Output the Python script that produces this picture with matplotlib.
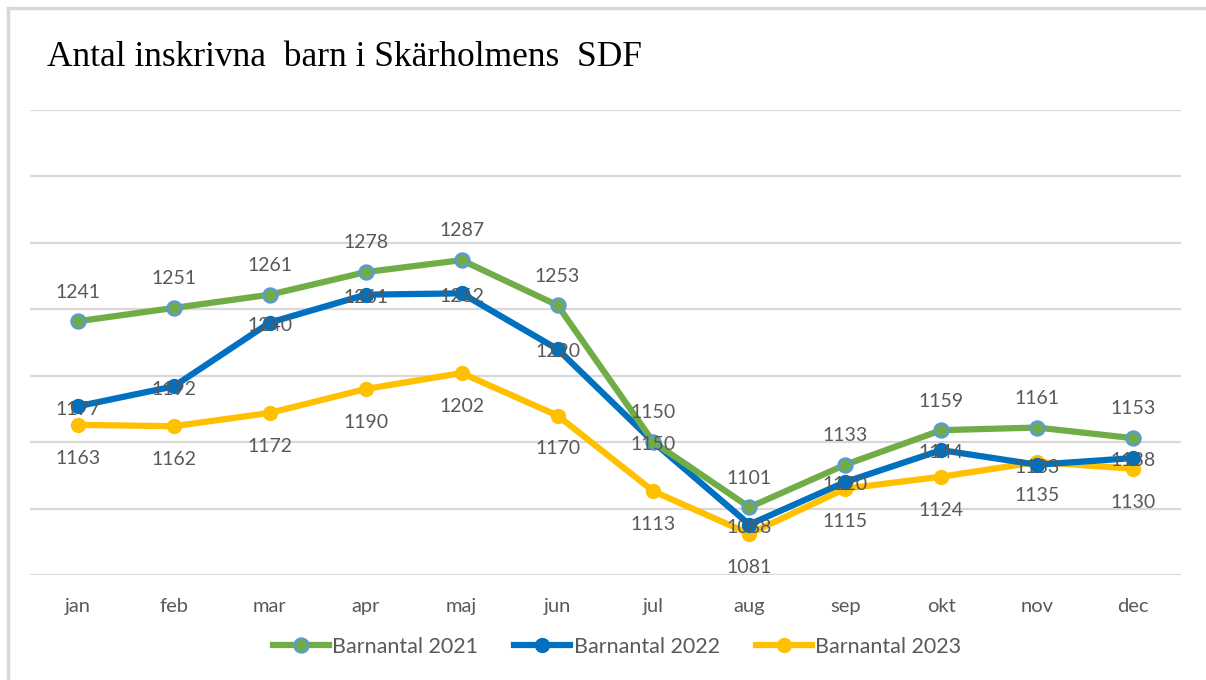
import matplotlib
matplotlib.use("Agg")
import matplotlib.pyplot as plt
from matplotlib.lines import Line2D

months = ["jan", "feb", "mar", "apr", "maj", "jun", "jul", "aug", "sep", "okt", "nov", "dec"]
barn_2021 = [1241, 1251, 1261, 1278, 1287, 1253, 1150, 1101, 1133, 1159, 1161, 1153]
barn_2022 = [1177, 1192, 1240, 1261, 1262, 1220, 1150, 1088, 1120, 1144, 1133, 1138]
barn_2023 = [1163, 1162, 1172, 1190, 1202, 1170, 1113, 1081, 1115, 1124, 1135, 1130]
series_names = ["Barnantal 2021", "Barnantal 2022", "Barnantal 2023"]

GREEN = "#70AD47"
BLUE = "#0070C0"
LIGHTBLUE = "#5B9BD5"
YELLOW = "#FFC000"
TEXT = "#595959"
GRID = "#D9D9D9"

fig = plt.figure(figsize=(12.06, 6.80), dpi=100)
fig.patch.set_facecolor("white")

# chart frame (top and left edges visible)
fig.add_artist(Line2D([8 / 1206, 1], [1 - 8 / 680, 1 - 8 / 680], color=GRID, lw=2.5,
                      transform=fig.transFigure))
fig.add_artist(Line2D([8 / 1206, 8 / 1206], [0, 1 - 8 / 680], color=GRID, lw=2.5,
                      transform=fig.transFigure))

ax = fig.add_axes([30 / 1206, 105 / 680, 1151 / 1206, 465 / 680])
x = list(range(len(months)))

ax.set_xlim(-0.5, len(months) - 0.5)
ax.set_ylim(1050, 1400)
ax.set_yticks(range(1050, 1401, 50))
ax.yaxis.grid(True, color=GRID, lw=1.6)
ax.set_axisbelow(True)
for s in ax.spines.values():
    s.set_visible(False)
ax.tick_params(axis="y", left=False, labelleft=False)
ax.tick_params(axis="x", bottom=False, pad=13, labelsize=14.5, labelcolor=TEXT)
ax.set_xticks(x)
ax.set_xticklabels(months, fontfamily="Lato")

lw = 4.5
ax.plot(x, barn_2023, color=YELLOW, lw=lw, marker="o", ms=10, mfc=YELLOW, mec=YELLOW,
        solid_capstyle="round", zorder=3)
ax.plot(x, barn_2022, color=BLUE, lw=lw, marker="o", ms=10, mfc=BLUE, mec=BLUE,
        solid_capstyle="round", zorder=4)
ax.plot(x, barn_2021, color=GREEN, lw=lw, marker="o", ms=10, mfc=GREEN, mec=LIGHTBLUE,
        mew=1.8, solid_capstyle="round", zorder=5)

lab = dict(ha="center", va="center", fontsize=14, color=TEXT, fontfamily="Lato",
           textcoords="offset points", zorder=6)
for xi, v in zip(x, barn_2021):
    ax.annotate(str(v), (xi, v), xytext=(0, 21), **lab)
for xi, v in zip(x, barn_2022):
    ax.annotate(str(v), (xi, v), xytext=(0, -2), **lab)
for xi, v in zip(x, barn_2023):
    ax.annotate(str(v), (xi, v), xytext=(0, -24), **lab)

fig.text(47 / 1206, 1 - 57 / 680, "Antal inskrivna  barn i Skärholmens  SDF",
         fontfamily="Liberation Serif", fontsize=25.5, color="black", va="center", ha="left")

handles = [
    Line2D([], [], color=GREEN, lw=lw, marker="o", ms=10, mfc=GREEN, mec=LIGHTBLUE, mew=1.8),
    Line2D([], [], color=BLUE, lw=lw, marker="o", ms=10, mfc=BLUE, mec=BLUE),
    Line2D([], [], color=YELLOW, lw=lw, marker="o", ms=10, mfc=YELLOW, mec=YELLOW),
]
leg = fig.legend(handles, series_names, loc="center", bbox_to_anchor=(617 / 1206, 1 - 647 / 680),
                 ncol=3, frameon=False, handlelength=2.6, handletextpad=0.15, columnspacing=1.7,
                 prop={"family": "Lato", "size": 15.5})
for t in leg.get_texts():
    t.set_color(TEXT)

fig.savefig("out.png", dpi=100, facecolor="white")
